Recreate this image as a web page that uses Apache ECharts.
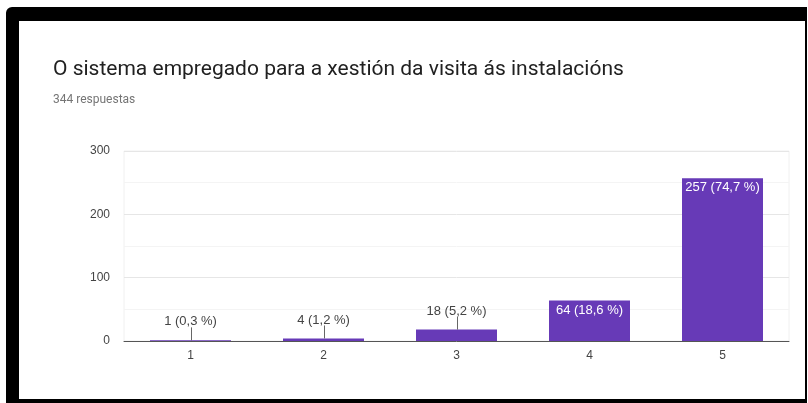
<!DOCTYPE html>
<html>
<head>
<meta charset="utf-8">
<script src="https://cdn.jsdelivr.net/npm/echarts@6/dist/echarts.min.js"></script>
<style>
  html, body { margin:0; padding:0; background:#fff; overflow:hidden; }
  .frame {
    position:absolute; left:6px; top:7px; width:801px; height:396px;
    box-sizing:border-box; border-style:solid; border-color:#000;
    border-width:14px 2px 4px 13px; border-top-left-radius:6px; background:#fff;
  }
  #chart { position:absolute; left:0; top:0; width:808px; height:403px; }
</style>
</head>
<body>
<div class="frame"></div>
<div id="chart"></div>
<script>
// datos do gráfico
var categorias = ['1', '2', '3', '4', '5'];
var respostas = [1, 4, 18, 64, 257];
var porcentaxes = ['0,3', '1,2', '5,2', '18,6', '74,7'];
var ticksY = [0, 100, 200, 300];

var chart = echarts.init(document.getElementById('chart'));
var fonteGraf = 'Liberation Sans, Arial, sans-serif';

function vaiDentro(v) { return v > 50; }   // as barras altas levan a etiqueta dentro

var datos = respostas.map(function (v) {
  return {
    value: v,
    label: vaiDentro(v) ? {
      position: 'insideTop', distance: 3, color: '#fff'
    } : {
      position: 'top', distance: 12, color: '#444'
    }
  };
});

// liñas guía das etiquetas de fóra
var guias = respostas.map(function (v, i) {
  return vaiDentro(v) ? null : [i, v];
}).filter(function (d) { return d; });

var option = {
  backgroundColor: 'transparent',
  textStyle: { fontFamily: fonteGraf },
  title: {
    text: 'O sistema empregado para a xestión da visita ás instalacións',
    subtext: '344 respuestas',
    left: 48, top: 54, itemGap: 14,
    textStyle: { fontSize: 21, fontWeight: 'normal', color: '#212121', fontFamily: 'Roboto' },
    subtextStyle: { fontSize: 12, color: '#757575', fontFamily: 'Roboto' }
  },
  grid: { left: 124, right: 19, top: 151, bottom: 62, show: true, borderColor: '#f0f0f0', borderWidth: 1 },
  xAxis: {
    type: 'category',
    data: categorias,
    axisLine: { lineStyle: { color: '#555', width: 1 } },
    axisTick: { show: false },
    axisLabel: { color: '#444', fontSize: 12, margin: 9, fontFamily: fonteGraf }
  },
  yAxis: {
    type: 'value',
    min: ticksY[0], max: ticksY[ticksY.length - 1], interval: 100,
    axisLine: { show: false },
    axisTick: { show: false },
    axisLabel: { color: '#444', fontSize: 12, margin: 14, fontFamily: fonteGraf },
    splitLine: { lineStyle: { color: '#e6e6e6' } },
    minorTick: { show: false, splitNumber: 2 },
    minorSplitLine: { show: true, lineStyle: { color: '#f4f4f4' } }
  },
  series: [{
    type: 'bar',
    data: datos,
    barWidth: 81,
    itemStyle: { color: '#673ab7' },
    label: {
      show: true, fontSize: 13, fontFamily: fonteGraf,
      formatter: function (p) { return p.value + ' (' + porcentaxes[p.dataIndex] + ' %)'; }
    }
  }, {
    type: 'custom',
    data: guias,
    silent: true,
    z: 3,
    renderItem: function (params, api) {
      var p = api.coord([api.value(0), api.value(1)]);
      var x = Math.round(p[0]) + 0.5;
      return {
        type: 'line',
        shape: { x1: x, y1: p[1], x2: x, y2: p[1] - 13 },
        style: { stroke: '#666', lineWidth: 1 }
      };
    }
  }]
};
chart.setOption(option);
</script>
</body>
</html>
